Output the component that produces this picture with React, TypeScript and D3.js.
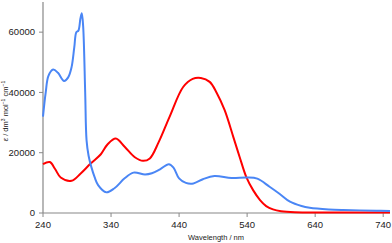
import React from "react";
import * as d3 from "d3";

const xTicks = [240, 340, 440, 540, 640, 740];
const yTicks = [0, 20000, 40000, 60000];

const blueWl = [240, 244, 248, 255, 262, 271, 277, 282, 286, 289, 292, 295, 297, 299, 302, 304, 307, 311, 316, 321, 333, 345, 360, 373, 390, 400, 412, 425, 432, 440, 450, 461, 475, 492, 517, 540, 555, 573, 588, 603, 620, 632, 660, 681, 730, 750];
const blueEps = [32000, 40000, 45500, 47600, 46500, 43800, 45000, 48400, 55000, 60000, 60500, 64500, 66300, 62000, 40000, 24200, 19000, 15300, 11800, 9270, 6850, 8200, 11500, 13400, 12800, 13200, 14500, 16200, 15000, 11500, 10000, 9800, 11200, 12250, 11600, 11800, 11400, 8700, 6300, 3740, 2300, 1750, 1200, 1000, 760, 650];

const redWl = [240, 250, 258, 266, 282, 295, 310, 325, 335, 347, 360, 375, 387, 397, 410, 426, 446, 460, 472, 485, 495, 507, 520, 529, 539, 549, 559, 568, 578, 590, 610, 650, 750];
const redEps = [16200, 16900, 14500, 11800, 10700, 13000, 16400, 19500, 22800, 24700, 22000, 18500, 17300, 18100, 23500, 31900, 41800, 44500, 44800, 43500, 40000, 34100, 25000, 18600, 11800, 7500, 4300, 2300, 1200, 600, 250, 150, 150];

const W = 392;
const H = 243;
const left = 43;
const right = 390;
const top = 2;
const bottom = 213;

export default function App() {
  const x = d3.scaleLinear().domain([240, 750]).range([left, right]);
  const y = d3.scaleLinear().domain([0, 70000]).range([bottom, top]);
  const line = d3
    .line<[number, number]>()
    .x((d) => x(d[0]))
    .y((d) => y(d[1]))
    .curve(d3.curveCatmullRom.alpha(0.5));
  const blue = blueWl.map((w, i) => [w, blueEps[i]] as [number, number]);
  const red = redWl.map((w, i) => [w, redEps[i]] as [number, number]);
  const font = "'Liberation Sans', Arial, sans-serif";
  return (
    <svg width={W} height={H} style={{ position: "absolute", left: 0, top: 0, background: "#fff" }} fontFamily={font}>
      <g>
        {yTicks.map((t) => (
          <g key={t}>
            <line x1={left - 4} x2={left} y1={y(t)} y2={y(t)} stroke="#888" strokeWidth={1} />
            <text x={left - 8} y={y(t)} dy="0.35em" textAnchor="end" fontSize={9.5} fill="#222">
              {t}
            </text>
          </g>
        ))}
        {xTicks.map((t) => (
          <g key={t}>
            <line x1={x(t)} x2={x(t)} y1={bottom} y2={bottom + 4} stroke="#888" strokeWidth={1} />
            <text x={x(t)} y={bottom + 15} textAnchor="middle" fontSize={9.5} fill="#222">
              {t}
            </text>
          </g>
        ))}
        <line x1={left} x2={left} y1={top} y2={bottom} stroke="#888" strokeWidth={1.2} />
        <line x1={left} x2={right} y1={bottom} y2={bottom} stroke="#888" strokeWidth={1.2} />
        <text x={216} y={240} textAnchor="middle" fontSize={7.5} fill="#222">
          Wavelength / nm
        </text>
        <text transform="translate(7.5,111) rotate(-90)" textAnchor="middle" fontSize={7.5} fill="#222">
          <tspan fontStyle="italic">ε</tspan> / dm<tspan dy="-2.5" fontSize={5}>3</tspan>
          <tspan dy="2.5"> mol</tspan>
          <tspan dy="-2.5" fontSize={5}>−1</tspan>
          <tspan dy="2.5"> cm</tspan>
          <tspan dy="-2.5" fontSize={5}>−1</tspan>
        </text>
      </g>
      <path d={line(red) || ""} fill="none" stroke="#ff0000" strokeWidth={2} />
      <path d={line(blue) || ""} fill="none" stroke="#4a86f5" strokeWidth={2} />
    </svg>
  );
}
